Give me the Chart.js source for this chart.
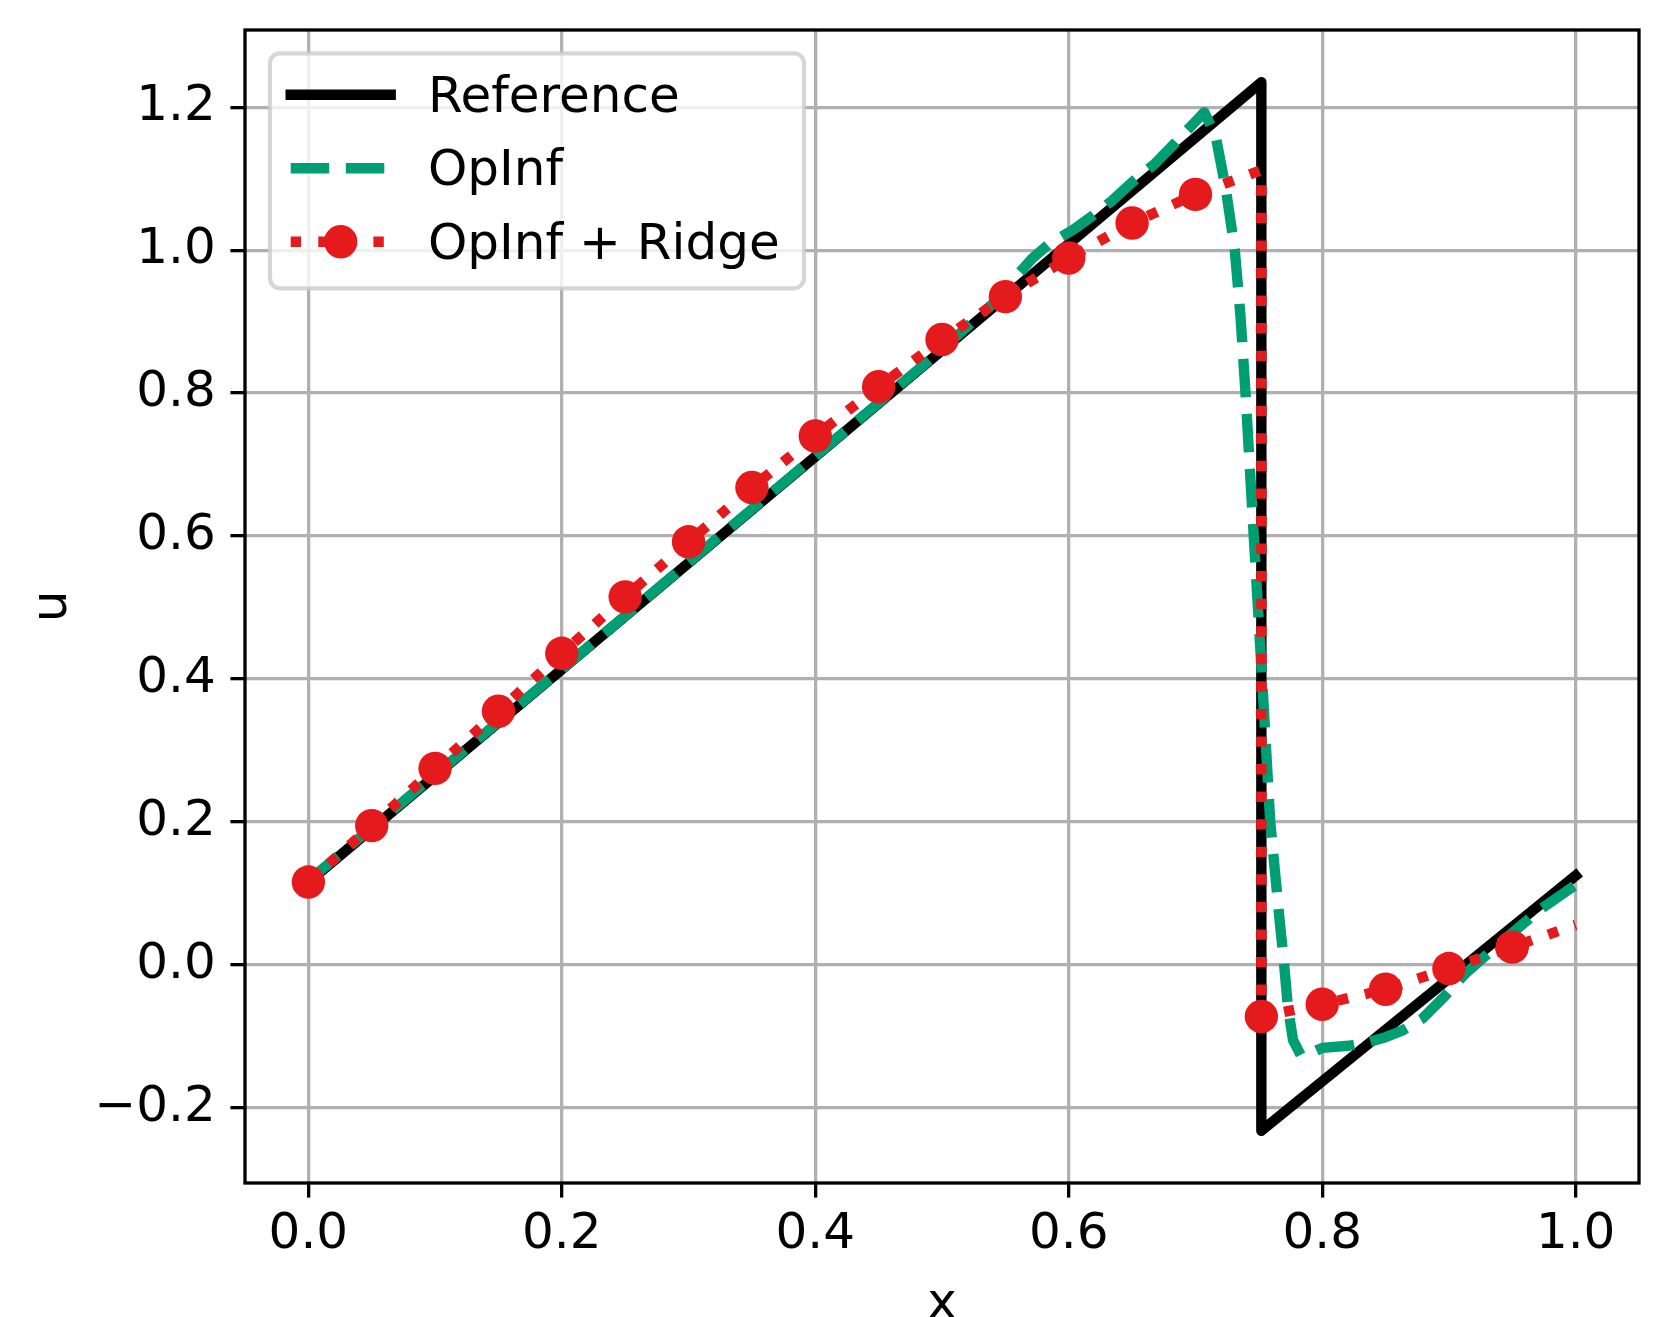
<!DOCTYPE html>
<html>
<head>
<meta charset="utf-8">
<script src="https://cdn.jsdelivr.net/npm/chart.js@4.4.1/dist/chart.umd.min.js"></script>
<style>
  html, body { margin: 0; padding: 0; background: #fff; }
  #wrap { width: 1671px; height: 1317px; }
</style>
</head>
<body>
<div id="wrap"><canvas id="chart" width="1671" height="1317"></canvas></div>
<script>
// Reference solution: linear ramp, shock at x ~ 0.752, then second ramp
const refX = [0, 0.752, 0.752, 1.0];
const refU = [0.116, 1.235, -0.232, 0.125];

// OpInf (dashed): follows the ramp, overshoots near the shock, smeared drop
const opinfX = [0, 0.1, 0.2, 0.3, 0.4, 0.5, 0.54, 0.561, 0.571, 0.584, 0.603, 0.618, 0.634, 0.65, 0.668, 0.684,
  0.7, 0.707, 0.716, 0.724, 0.731, 0.7356, 0.7395, 0.746, 0.7526, 0.759, 0.766, 0.77, 0.773, 0.777, 0.783,
  0.79, 0.8, 0.821, 0.836, 0.85, 0.863, 0.879, 0.897, 0.913, 0.94, 0.973, 1.0];
const opinfU = [0.118, 0.266, 0.414, 0.563, 0.712, 0.861, 0.925, 0.968, 0.988, 1.008, 1.028, 1.047, 1.069, 1.095, 1.121, 1.15,
  1.18, 1.193, 1.159, 1.085, 1.001, 0.906, 0.8, 0.6, 0.4, 0.2, 0.07, 0.0, -0.06, -0.105, -0.126,
  -0.124, -0.116, -0.113, -0.108, -0.101, -0.092, -0.075, -0.043, -0.012, 0.03, 0.079, 0.112];

// OpInf + Ridge (dotted with round markers)
const ridgeX = [0, 0.05, 0.1, 0.15, 0.2, 0.25, 0.3, 0.35, 0.4, 0.45, 0.5, 0.55, 0.6, 0.65, 0.7,
  0.752, 0.752, 0.8, 0.85, 0.9, 0.95, 1.0];
const ridgeU = [0.116, 0.195, 0.275, 0.355, 0.436, 0.515, 0.592, 0.668, 0.74, 0.809, 0.875, 0.935, 0.989, 1.038, 1.078,
  1.112, -0.072, -0.055, -0.034, -0.005, 0.025, 0.056];
// indices of ridge samples that carry a marker (every 0.05, not the shock top or the end)
const ridgeMarkIdx = [0, 1, 2, 3, 4, 5, 6, 7, 8, 9, 10, 11, 12, 13, 14, 16, 17, 18, 19, 20];

const seriesNames = ["Reference", "OpInf", "OpInf + Ridge"];
const xTicks = [0, 0.2, 0.4, 0.6, 0.8, 1.0];
const yTicks = [-0.2, 0, 0.2, 0.4, 0.6, 0.8, 1.0, 1.2];
const xLimits = [-0.05, 1.05];
const yLimits = [-0.305, 1.308];
const xTitle = "x";
const yTitle = "u";

const colors = { ref: "#000000", opinf: "#009E73", ridge: "#E41A1C", grid: "#b0b0b0" };
const LW = 10.4;
const MARKER_R = 16.7;
const FONT = '"DejaVu Sans", sans-serif';

Chart.defaults.font.family = FONT;
Chart.defaults.color = "#000";

const toPts = (xs, ys) => xs.map((x, i) => ({ x, y: ys[i] }));
const fmt = (v) => (v < -1e-9 ? "\u2212" : "") + Math.abs(v).toFixed(1);

const frameAndLegend = {
  id: "frameAndLegend",
  afterDraw(chart) {
    const { ctx, chartArea: a } = chart;
    ctx.save();
    ctx.strokeStyle = "#000";
    ctx.lineWidth = 3.3;
    ctx.strokeRect(a.left, a.top, a.right - a.left, a.bottom - a.top);

    // legend, upper left, matplotlib style
    const bx = a.left + 25, by = a.top + 23.3, bw = 534, bh = 235;
    ctx.beginPath();
    ctx.roundRect(bx, by, bw, bh, 10);
    ctx.fillStyle = "rgba(255,255,255,0.8)";
    ctx.fill();
    ctx.strokeStyle = "rgba(204,204,204,0.8)";
    ctx.lineWidth = 4.2;
    ctx.stroke();

    ctx.font = "50px " + FONT;
    ctx.textBaseline = "alphabetic";
    ctx.textAlign = "left";
    chart.data.datasets.forEach((ds, i) => {
      const y = by + 41.4 + i * 73.5;
      const x0 = bx + 20.7, x1 = x0 + 100;
      ctx.beginPath();
      ctx.setLineDash(ds.borderDash || []);
      ctx.lineCap = ds.borderCapStyle || "butt";
      ctx.strokeStyle = ds.borderColor;
      ctx.lineWidth = ds.borderWidth;
      ctx.moveTo(x0, y);
      ctx.lineTo(x1, y);
      ctx.stroke();
      ctx.setLineDash([]);
      if (ds.legendMarker) {
        ctx.beginPath();
        ctx.arc((x0 + x1) / 2, y, MARKER_R, 0, Math.PI * 2);
        ctx.fillStyle = ds.borderColor;
        ctx.fill();
      }
      ctx.fillStyle = "#000";
      ctx.fillText(ds.label, x1 + 37.3, y + 17);
    });
    ctx.restore();
  },
};

new Chart(document.getElementById("chart"), {
  type: "line",
  data: {
    datasets: [
      {
        label: seriesNames[0],
        data: toPts(refX, refU),
        borderColor: colors.ref,
        borderWidth: LW,
        borderCapStyle: "square",
        borderJoinStyle: "round",
        pointRadius: 0,
        order: 3,
      },
      {
        label: seriesNames[1],
        data: toPts(opinfX, opinfU),
        borderColor: colors.opinf,
        borderWidth: LW,
        borderDash: [3.7 * LW, 1.6 * LW],
        borderJoinStyle: "round",
        pointRadius: 0,
        order: 2,
      },
      {
        label: seriesNames[2],
        data: toPts(ridgeX, ridgeU),
        borderColor: colors.ridge,
        borderWidth: LW,
        borderDash: [LW, 1.65 * LW],
        borderJoinStyle: "round",
        pointRadius: (c) => (ridgeMarkIdx.includes(c.dataIndex) ? MARKER_R : 0),
        pointBackgroundColor: colors.ridge,
        pointBorderWidth: 0,
        pointStyle: "circle",
        legendMarker: true,
        order: 1,
      },
    ],
  },
  options: {
    responsive: false,
    devicePixelRatio: 1,
    animation: false,
    events: [],
    layout: { padding: { top: 30, right: 32, left: 0, bottom: 0 } },
    elements: { line: { tension: 0 } },
    plugins: { legend: { display: false }, tooltip: { enabled: false } },
    scales: {
      x: {
        type: "linear",
        min: xLimits[0],
        max: xLimits[1],
        afterFit: (s) => { s.height = 134; s.paddingLeft = 0; s.paddingRight = 0; },
        afterBuildTicks: (s) => { s.ticks = xTicks.map((v) => ({ value: v })); },
        border: { display: false },
        grid: { color: colors.grid, lineWidth: 3.3, tickLength: 14.6, tickColor: "#000", tickWidth: 3.3 },
        ticks: { font: { size: 50 }, color: "#000", padding: 7, maxRotation: 0, minRotation: 0, autoSkip: false, callback: fmt },
        title: { display: true, text: xTitle, font: { size: 50, lineHeight: 1 }, color: "#000", padding: { top: 0, bottom: -13 } },
      },
      y: {
        type: "linear",
        min: yLimits[0],
        max: yLimits[1],
        afterFit: (s) => { s.width = 245; s.paddingTop = 0; s.paddingBottom = 0; },
        afterBuildTicks: (s) => { s.ticks = yTicks.map((v) => ({ value: v })); },
        border: { display: false },
        grid: { color: colors.grid, lineWidth: 3.3, tickLength: 14.6, tickColor: "#000", tickWidth: 3.3 },
        ticks: { font: { size: 50 }, color: "#000", padding: 14.6, autoSkip: false, callback: fmt },
        title: { display: true, text: yTitle, font: { size: 50, lineHeight: 1 }, color: "#000", padding: { top: 27.7, bottom: 0 } },
      },
    },
  },
  plugins: [frameAndLegend],
});
</script>
</body>
</html>
